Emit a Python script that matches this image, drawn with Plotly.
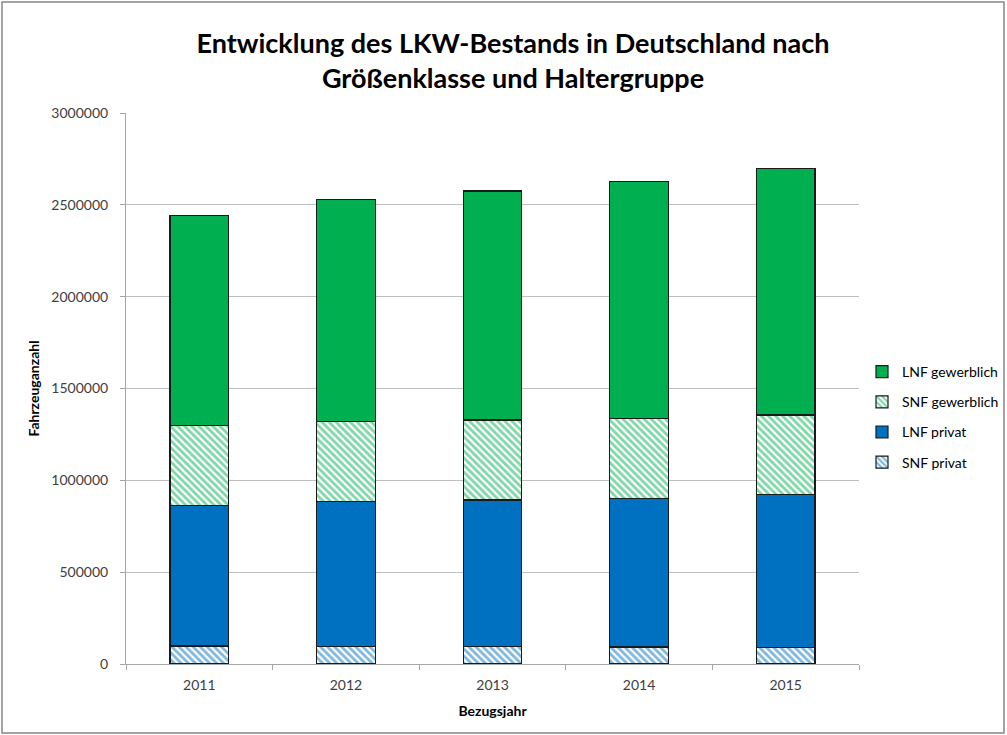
import plotly.graph_objects as go

years = ["2011", "2012", "2013", "2014", "2015"]
snf_privat = [98000, 97000, 96000, 93000, 92000]
lnf_privat = [764000, 787000, 797000, 808000, 833000]
snf_gewerblich = [438000, 438000, 435000, 436000, 431000]
lnf_gewerblich = [1140000, 1205000, 1247000, 1289000, 1342000]

GREEN = "#00B050"
BLUE = "#0070C0"
FONT = "Lato"

fig = go.Figure()
line = dict(color="#1a1a1a", width=1.2)
fig.add_trace(go.Bar(name="SNF privat", x=years, y=snf_privat, legendgroup="a", legendrank=4,
                     marker=dict(color="white", line=line,
                                 pattern=dict(shape="\\", fgcolor=BLUE, bgcolor="white",
                                              size=5, solidity=0.55))))
fig.add_trace(go.Bar(name="LNF privat", x=years, y=lnf_privat, legendgroup="b", legendrank=3,
                     marker=dict(color=BLUE, line=line)))
fig.add_trace(go.Bar(name="SNF gewerblich", x=years, y=snf_gewerblich, legendgroup="c", legendrank=2,
                     marker=dict(color="white", line=line,
                                 pattern=dict(shape="\\", fgcolor=GREEN, bgcolor="white",
                                              size=5, solidity=0.55))))
fig.add_trace(go.Bar(name="LNF gewerblich", x=years, y=lnf_gewerblich, legendgroup="d", legendrank=1,
                     marker=dict(color=GREEN, line=line)))

W, H = 1007, 735
L, R, T, B = 126, 148, 113, 71
pw, ph = W - L - R, H - T - B

fig.update_layout(
    width=W, height=H,
    barmode="stack", bargap=0.6,
    paper_bgcolor="white", plot_bgcolor="white",
    margin=dict(l=L, r=R, t=T, b=B, autoexpand=False),
    font=dict(family=FONT, size=14, color="#404040"),
    title=dict(text="<b>Entwicklung des LKW-Bestands in Deutschland nach<br>Größenklasse und Haltergruppe</b>",
               x=513 / W, xanchor="center", yref="container", y=1 - 53 / H, yanchor="middle",
               font=dict(family=FONT, size=27, color="#000000")),
    legend=dict(traceorder="grouped", x=(862 - L) / pw, xanchor="left",
                y=(664 - 356) / ph, yanchor="top",
                font=dict(family=FONT, size=14, color="#000000"),
                itemwidth=30, tracegroupgap=9, bgcolor="rgba(0,0,0,0)"),
    xaxis=dict(showline=True, linecolor="#a6a6a6", linewidth=1,
               ticks="outside", tickson="boundaries", ticklen=5, tickcolor="#a6a6a6",
               ticklabelstandoff=8,
               title=dict(text="<b>Bezugsjahr</b>", font=dict(family=FONT, size=14, color="#000000"),
                          standoff=14)),
    yaxis=dict(range=[0, 3000000], dtick=500000, tickformat="d",
               showline=True, linecolor="#a6a6a6", linewidth=1,
               gridcolor="#bfbfbf", gridwidth=1,
               ticks="outside", ticklen=5, tickcolor="#a6a6a6",
               ticklabelstandoff=9,
               title=dict(text="<b>Fahrzeuganzahl</b>", font=dict(family=FONT, size=14, color="#000000"),
                          standoff=8)),
)

fig.add_shape(type="rect", xref="paper", yref="paper",
              x0=-(L - 2) / pw, x1=(W - 3 - L) / pw,
              y0=-(B - 2) / ph, y1=1 + (T - 2) / ph,
              line=dict(color="#868686", width=1.5), fillcolor="rgba(0,0,0,0)", layer="below")

fig.write_html("out.html", config={"displayModeBar": False},
               post_script="document.body.style.margin='0';")
